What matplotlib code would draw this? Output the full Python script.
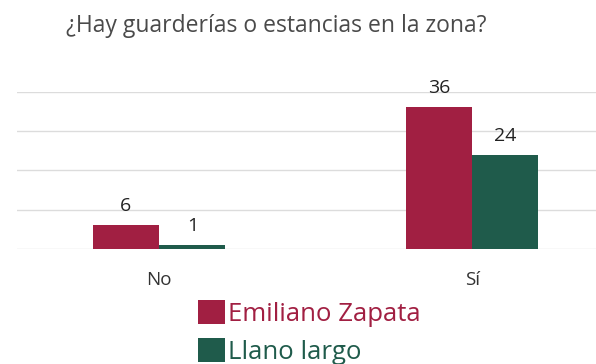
import matplotlib
matplotlib.use("Agg")
import matplotlib.pyplot as plt
from matplotlib.patches import Patch
import numpy as np

categories = ["No", "Sí"]
series_names = ["Emiliano Zapata", "Llano largo"]
emiliano = [6, 36]
llano = [1, 24]
colors = ["#A11F42", "#1F5B4B"]

plt.rcParams['font.family'] = ['Open Sans', 'DejaVu Sans']

W, H = 596, 364
fig = plt.figure(figsize=(W/100, H/100), dpi=100)
left_px, right_px = 17, 596
bot_px, top_px = 249, 91.5
ax = fig.add_axes([left_px/W, (H-bot_px)/H, (right_px-left_px)/W, (bot_px-top_px)/H])

x = np.arange(len(categories))
bw = 0.212
b1 = ax.bar(x - bw/2, emiliano, bw, color=colors[0], zorder=3)
b2 = ax.bar(x + bw/2, llano, bw, color=colors[1], zorder=3)

for bars, vals in ((b1, emiliano), (b2, llano)):
    for rect, v in zip(bars, vals):
        ax.annotate(str(v), (rect.get_x() + rect.get_width()/2, v),
                    xytext=(0, 10), textcoords="offset points",
                    ha="center", va="baseline", fontsize=14, color="#222222")

ax.set_xlim(-0.454, 0.396 + 1)
ax.set_ylim(0, 40)
ax.set_yticks([0, 10, 20, 30, 40])
ax.yaxis.grid(True, color="#dcdcdc", linewidth=1)
ax.set_axisbelow(True)
ax.tick_params(axis="y", left=False, labelleft=False)
ax.tick_params(axis="x", bottom=False, labelsize=13.5, labelcolor="#333333", pad=12)
ax.set_xticks(x)
ax.set_xticklabels(categories)
for s in ax.spines.values():
    s.set_visible(False)

fig.text(0.5 * (63 + 490) / W, 1 - 26/H, "¿Hay guarderías o estancias en la zona?",
         ha="center", va="center", fontsize=16.5, color="#4a4a4a")

handles = [Patch(facecolor=c) for c in colors]
leg = fig.legend(handles, series_names, loc="upper left",
                 bbox_to_anchor=(198/W, 1 - 300/H), frameon=False,
                 fontsize=18.5, handlelength=1.05, handleheight=1.05,
                 handletextpad=0.12, labelspacing=0.45, borderpad=0,
                 borderaxespad=0)
for t, c in zip(leg.get_texts(), colors):
    t.set_color(c)

fig.savefig("out.png", dpi=100)
